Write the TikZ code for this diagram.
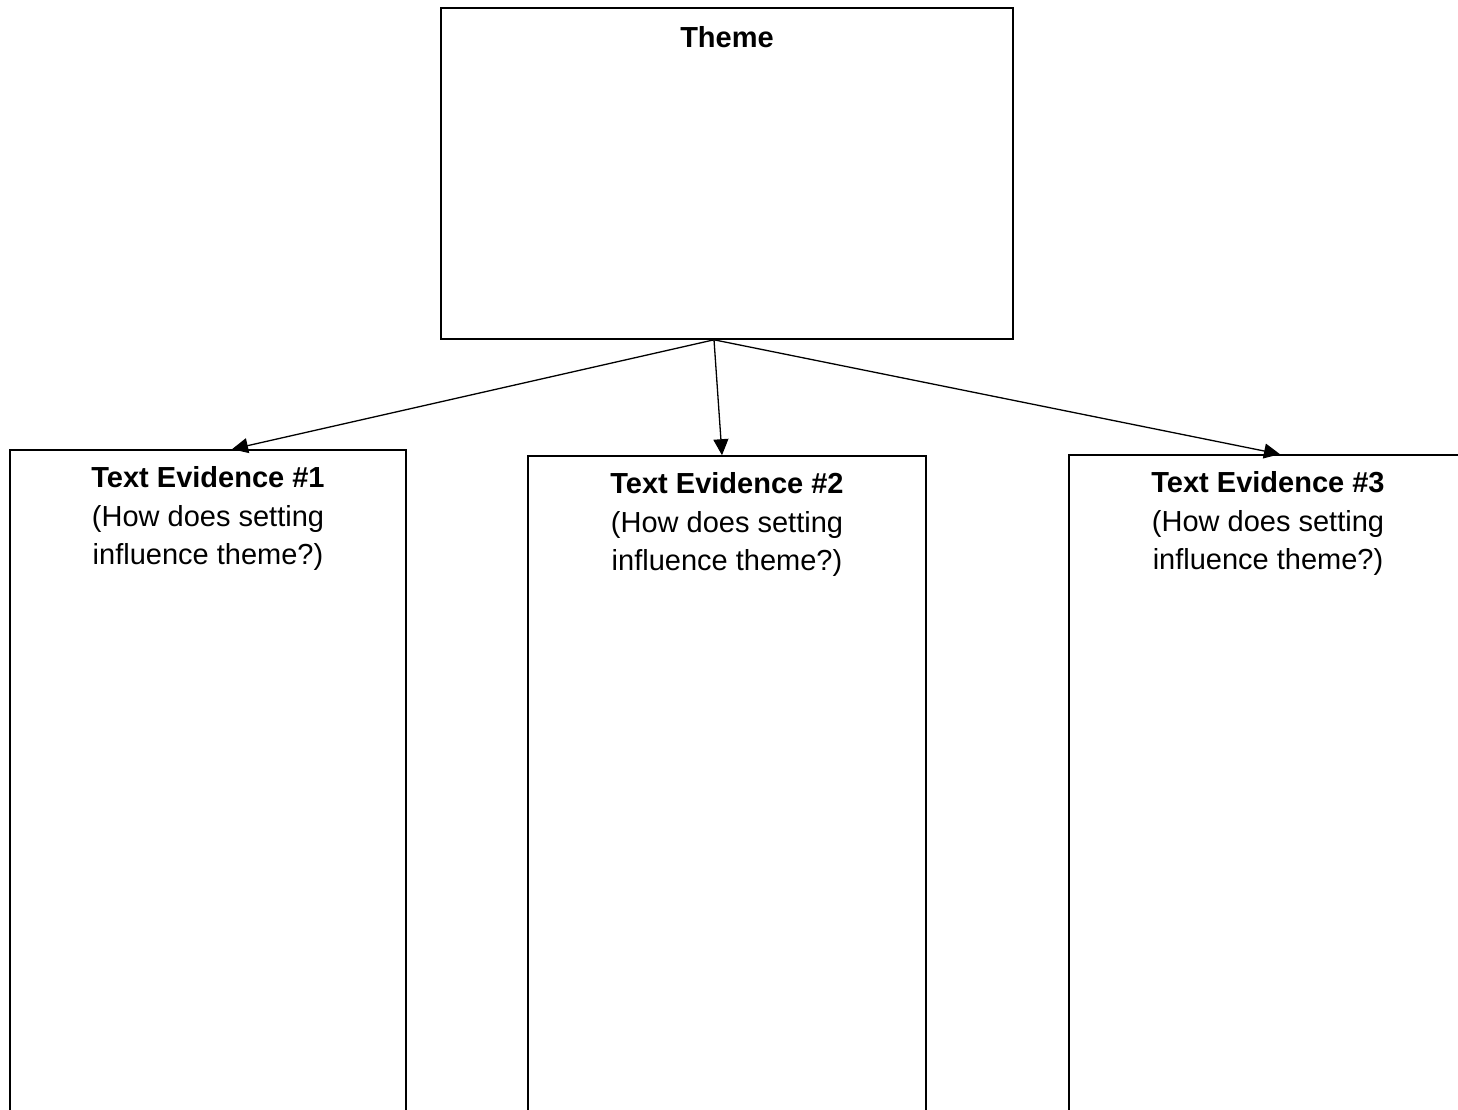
\documentclass[tikz,border=0pt]{standalone}
\usepackage{fontspec}
\setmainfont{Liberation Sans}
\usetikzlibrary{positioning,arrows.meta}

\begin{document}
\begin{tikzpicture}[%
    x=1pt,
    y=-1pt,
    -{Triangle[length=16pt,width=15pt]},
    line width=1.3pt,
    tbox/.style={%
      rectangle,
      draw,
      -,
      line width=1.6pt,
      minimum width=#1,
      minimum height=700pt,
      inner sep=0pt},
    ttext/.style={%
      align=center,
      inner sep=0pt,
      font=\fontsize{29}{38.5}\selectfont}
    ]
    \clip (0,0) rectangle (1458,1110);
    \node[tbox=572pt,minimum height=331pt] (theme) at (727,173.5) {};
    \node[ttext,anchor=base] (themetxt) at ([yshift=-40pt]theme.north) {\textbf{Theme}};
    \node[tbox=396pt] (ev1) at (208,800) {};
    \node[tbox=398pt] (ev2) at (727,806) {};
    \node[tbox=398pt] (ev3) at (1268,805) {};
    \node[ttext] (ev1txt) [below=17pt of ev1.north] {\textbf{Text Evidence \#1}\\(How does setting\\influence theme?)};
    \node[ttext] (ev2txt) [below=17pt of ev2.north] {\textbf{Text Evidence \#2}\\(How does setting\\influence theme?)};
    \node[ttext] (ev3txt) [below=17pt of ev3.north] {\textbf{Text Evidence \#3}\\(How does setting\\influence theme?)};
    \draw ([xshift=-13pt]theme.south) -- ([xshift=24pt]ev1.north);
    \draw ([xshift=-13pt]theme.south) -- ([xshift=-5pt]ev2.north);
    \draw ([xshift=-13pt]theme.south) -- ([xshift=12pt]ev3.north);
  \end{tikzpicture}
\end{document}
